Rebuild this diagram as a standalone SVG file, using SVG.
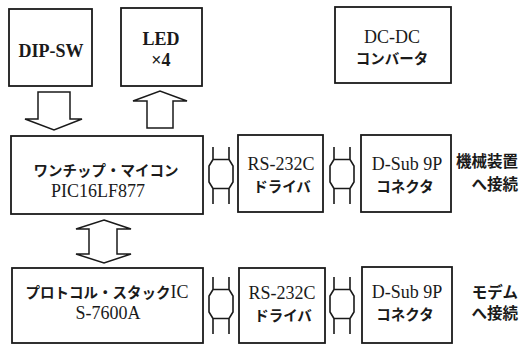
<svg xmlns="http://www.w3.org/2000/svg" width="525" height="346" viewBox="0 0 525 346">
<style>
.box{fill:#fff;stroke:#1a1a1a;stroke-width:1.8}
.arr{fill:#fff;stroke:#1a1a1a;stroke-width:1.5;stroke-linejoin:miter}
.ln{fill:none;stroke:#1a1a1a;stroke-width:1.6}
text{font-family:"Liberation Serif","Times New Roman","DejaVu Serif",serif;font-size:18px;fill:#1a1a1a;text-anchor:middle}
.b{font-weight:bold}
.jp{font-family:"Noto Sans CJK JP","Noto Sans CJK SC",sans-serif;font-size:14.5px;font-weight:bold}
.side{font-family:"Noto Sans CJK JP","Noto Sans CJK SC",sans-serif;font-size:15.5px;font-weight:bold;text-anchor:end}
</style>
<defs>
<path id="hdbl" class="ln" d="M-8,-27 V-14.5 L-12,-8 V8 L-8,14.5 V30 M8,-27 V-14.5 L12,-8 V8 L8,14.5 V30 M-8,-14.5 H8 M-8,14.5 H8"/>
</defs>
<rect width="525" height="346" fill="#fff"/>
<g id="connectors">
<polygon id="arr-dipsw" class="arr" points="38,92 70,92 70,119 82,119 54,130 25,119 38,119"/>
<polygon id="arr-led" class="arr" points="147,128 173,128 173,101 187,101 160,91 133,101 147,101"/>
<polygon id="arr-mcu-proto" class="arr" points="104,220 131,229 117,229 117,254 131,254 104,263 76,254 89,254 89,229 76,229"/>
<use href="#hdbl" transform="translate(221,174)"/>
<use href="#hdbl" transform="translate(342,174)"/>
<use href="#hdbl" transform="translate(221,304)"/>
<use href="#hdbl" transform="translate(342,304)"/>
</g>
<g id="dipsw">
<rect class="box" x="9" y="9" width="83" height="77"/>
<text class="b" x="51" y="57" font-size="17">DIP-SW</text>
</g>
<g id="led">
<rect class="box" x="121" y="8" width="81" height="78"/>
<text class="b" x="161" y="45" font-size="17">LED</text>
<text class="b" x="161" y="66" font-size="16">×4</text>
</g>
<g id="dcdc">
<rect class="box" x="335" y="7" width="116" height="76"/>
<text x="392" y="43">DC-DC</text>
<text class="jp" x="392" y="64">コンバータ</text>
</g>
<g id="mcu">
<rect class="box" x="11" y="136" width="192" height="78"/>
<text class="jp" x="106" y="176">ワンチップ・マイコン</text>
<text x="98" y="197">PIC16LF877</text>
</g>
<g id="rs232c-1">
<rect class="box" x="238" y="135" width="85" height="77"/>
<text x="281" y="170">RS-232C</text>
<text class="jp" x="282" y="192">ドライバ</text>
</g>
<g id="dsub-1">
<rect class="box" x="361" y="135" width="90" height="77"/>
<text x="407" y="170">D-Sub 9P</text>
<text class="jp" x="405" y="192">コネクタ</text>
</g>
<g id="label-1">
<text class="side" x="518" y="167">機械装置</text>
<text class="side" x="518" y="190">へ接続</text>
</g>
<g id="proto">
<rect class="box" x="12" y="268" width="191" height="75"/>
<text x="107" y="298"><tspan class="jp">プロトコル・スタック</tspan>IC</text>
<text x="108" y="319">S-7600A</text>
</g>
<g id="rs232c-2">
<rect class="box" x="239" y="268" width="86" height="75"/>
<text x="282" y="299">RS-232C</text>
<text class="jp" x="283" y="321">ドライバ</text>
</g>
<g id="dsub-2">
<rect class="box" x="362" y="267" width="90" height="76"/>
<text x="407" y="298">D-Sub 9P</text>
<text class="jp" x="405" y="320">コネクタ</text>
</g>
<g id="label-2">
<text class="side" x="518" y="298">モデム</text>
<text class="side" x="518" y="319">へ接続</text>
</g>
</svg>
